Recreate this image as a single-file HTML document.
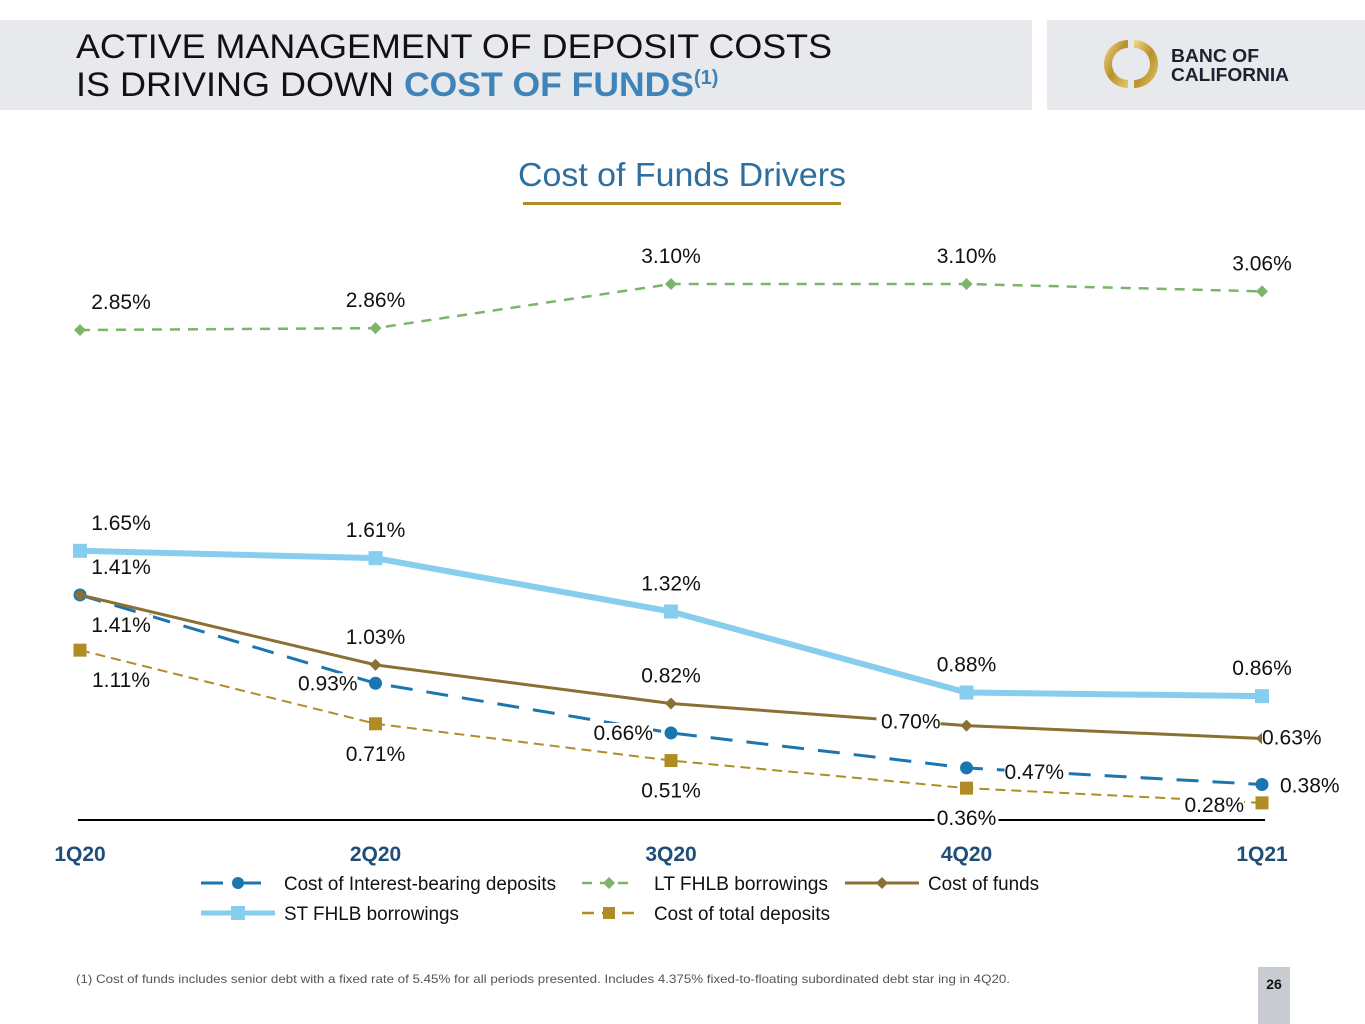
<!DOCTYPE html>
<html><head><meta charset="utf-8"><style>
html,body{margin:0;padding:0;background:#fff;}
svg{display:block;font-family:"Liberation Sans",Arial,sans-serif;}
</style></head><body>
<svg id="chart" width="1365" height="1024" viewBox="0 0 1365 1024" xmlns="http://www.w3.org/2000/svg">
<defs>
<linearGradient id="gold" x1="0" y1="0" x2="1" y2="1"><stop offset="0" stop-color="#f1d98a"/><stop offset="0.5" stop-color="#b8912e"/><stop offset="1" stop-color="#e8c96a"/></linearGradient>
</defs>
<g>
<rect x="0" y="20" width="1032" height="90" fill="#e7e9ec"/>
<text x="76" y="58" font-size="34" fill="#111" textLength="756" lengthAdjust="spacingAndGlyphs">ACTIVE MANAGEMENT OF DEPOSIT COSTS</text>
<text x="76" y="96" font-size="34" fill="#111"><tspan textLength="328" lengthAdjust="spacingAndGlyphs">IS DRIVING DOWN </tspan><tspan fill="#3f84b8" font-weight="bold" textLength="290" lengthAdjust="spacingAndGlyphs">COST OF FUNDS</tspan><tspan font-size="20" dy="-12" fill="#3f84b8" font-weight="bold">(1)</tspan></text>
<rect x="1047" y="20" width="318" height="90" fill="#e7e9ec"/>
<g>
<path d="M1128 40 A24 24 0 0 0 1128 88 L1128 80 A16 16 0 0 1 1128 48 Z" fill="url(#gold)"/>
<path d="M1134 40 A24 24 0 0 1 1134 88 L1134 80 A16 16 0 0 0 1134 48 Z" fill="url(#gold)"/>
<text x="1171" y="62" font-size="18" font-weight="bold" fill="#1b2330" textLength="88" lengthAdjust="spacingAndGlyphs">BANC OF</text>
<text x="1171" y="81" font-size="18" font-weight="bold" fill="#1b2330" textLength="118" lengthAdjust="spacingAndGlyphs">CALIFORNIA</text>
</g>
</g>
<text x="682" y="186" font-size="33" fill="#2f6f9f" text-anchor="middle" textLength="328" lengthAdjust="spacingAndGlyphs">Cost of Funds Drivers</text>
<rect x="523" y="202" width="318" height="3" fill="#b08d24"/>
<line x1="78" y1="820" x2="1265" y2="820" stroke="#000" stroke-width="2"/>
<g id="xlabels"></g>
<g id="series"></g>
<g id="labels"></g>
<g>
<g>
<line x1="201" y1="883" x2="275" y2="883" stroke="#1a75b0" stroke-width="3" stroke-dasharray="22,16"/>
<circle cx="238" cy="883" r="6" fill="#1a75b0"/>
<text x="284" y="890" font-size="19" fill="#111" textLength="272" lengthAdjust="spacingAndGlyphs">Cost of Interest-bearing deposits</text></g>
<g>
<line x1="582" y1="883" x2="636" y2="883" stroke="#7cb46a" stroke-width="2.5" stroke-dasharray="10,8"/>
<path d="M609 877 L615 883 L609 889 L603 883 Z" fill="#7cb46a"/>
<text x="654" y="890" font-size="19" fill="#111" textLength="174" lengthAdjust="spacingAndGlyphs">LT FHLB borrowings</text></g>
<g>
<line x1="845" y1="883" x2="919" y2="883" stroke="#8a7133" stroke-width="3"/>
<path d="M882 877 L888 883 L882 889 L876 883 Z" fill="#8a7133"/>
<text x="928" y="890" font-size="19" fill="#111" textLength="111" lengthAdjust="spacingAndGlyphs">Cost of funds</text></g>
<g>
<line x1="201" y1="913" x2="275" y2="913" stroke="#86cdee" stroke-width="5"/>
<rect x="231" y="906" width="14" height="14" fill="#86cdee"/>
<text x="284" y="920" font-size="19" fill="#111" textLength="175" lengthAdjust="spacingAndGlyphs">ST FHLB borrowings</text></g>
<g>
<line x1="582" y1="913" x2="636" y2="913" stroke="#b08d24" stroke-width="2.5" stroke-dasharray="12,8"/>
<rect x="603" y="907" width="12" height="12" fill="#b08d24"/>
<text x="654" y="920" font-size="19" fill="#111" textLength="176" lengthAdjust="spacingAndGlyphs">Cost of total deposits</text></g>
</g>
<text x="76" y="983" font-size="12" fill="#555" textLength="934" lengthAdjust="spacingAndGlyphs">(1)  Cost of funds includes senior debt with a fixed rate of 5.45% for all periods presented. Includes 4.375% fixed-to-floating subordinated debt star ing in 4Q20.</text>
<rect x="1258" y="967" width="32" height="57" fill="#c8cbcf"/>
<text x="1274" y="989" font-size="14" font-weight="bold" fill="#111" text-anchor="middle">26</text>
</svg>
<script>
const categories = ["1Q20","2Q20","3Q20","4Q20","1Q21"];
const ltFhlb = [2.85, 2.86, 3.10, 3.10, 3.06];
const stFhlb = [1.65, 1.61, 1.32, 0.88, 0.86];
const costOfFunds = [1.41, 1.03, 0.82, 0.70, 0.63];
const interestBearing = [1.41, 0.93, 0.66, 0.47, 0.38];
const totalDeposits = [1.11, 0.71, 0.51, 0.36, 0.28];

const NS = "http://www.w3.org/2000/svg";
function xPos(i){ return 80 + i * 295.5; }
function yPos(v){ return 854.4 - 184 * v; }
function mk(tag, attrs, parent){ const e = document.createElementNS(NS, tag); for (const k in attrs) e.setAttribute(k, attrs[k]); parent.appendChild(e); return e; }

const xl = document.getElementById("xlabels");
categories.forEach((c, i) => {
  const t = mk("text", {x: xPos(i), y: 861, "font-size": 21, "font-weight": "bold", fill: "#1f4e7a", "text-anchor": "middle"}, xl);
  t.textContent = c;
  
  
});

const sg = document.getElementById("series");
const lg = document.getElementById("labels");
const seriesDefs = [
  {name: "lt-fhlb", vals: ltFhlb, color: "#7cb46a", w: 2.5, dash: "10,8", marker: "diamond",
   pos: [[41,-21,"middle"],[0,-21,"middle"],[0,-21,"middle"],[0,-21,"middle"],[0,-21,"middle"]]},
  {name: "total-deposits", vals: totalDeposits, color: "#b08d24", w: 2, dash: "10,6", marker: "square",
   pos: [[41,37,"middle"],[0,37,"middle"],[0,37,"middle"],[0,37,"middle"],[-18,9,"end"]]},
  {name: "interest-bearing", vals: interestBearing, color: "#1a75b0", w: 3, dash: "22,14", marker: "circle",
   pos: [[41,37,"middle"],[-18,7,"end"],[-18,7,"end"],[38,11,"start"],[18,8,"start"]]},
  {name: "cost-of-funds", vals: costOfFunds, color: "#8a7133", w: 3, dash: null, marker: "diamond",
   pos: [[41,-21,"middle"],[0,-21,"middle"],[0,-21,"middle"],[-26,3,"end"],[0,6,"start"]]},
  {name: "st-fhlb", vals: stFhlb, color: "#86cdee", w: 6, dash: null, marker: "square",
   pos: [[41,-21,"middle"],[0,-21,"middle"],[0,-21,"middle"],[0,-21,"middle"],[0,-21,"middle"]]}
];
seriesDefs.forEach(s => {
  const g = mk("g", {}, sg);
  
  
  const pts = s.vals.map((v, i) => xPos(i) + "," + yPos(v)).join(" ");
  const pl = mk("polyline", {points: pts, fill: "none", stroke: s.color, "stroke-width": s.w}, g);
  if (s.dash) pl.setAttribute("stroke-dasharray", s.dash);
  
  
  s.vals.forEach((v, i) => {
    const x = xPos(i), y = yPos(v);
    let m;
    if (s.marker === "circle") m = mk("circle", {cx: x, cy: y, r: 6.5, fill: s.color}, g);
    else if (s.marker === "square") { const sz = s.w > 4 ? 14 : 13; m = mk("rect", {x: x - sz/2, y: y - sz/2, width: sz, height: sz, fill: s.color}, g); }
    else { const r = 6; m = mk("path", {d: `M${x} ${y-r} L${x+r} ${y} L${x} ${y+r} L${x-r} ${y} Z`, fill: s.color}, g); }
    
    
    const p = s.pos[i];
    const tx = x + p[0], ty = y + p[1];
    const bg = mk("rect", {fill: "#fff"}, lg);
    const t = mk("text", {x: tx, y: ty, "font-size": 21, fill: "#111", "text-anchor": p[2]}, lg);
    t.textContent = v.toFixed(2) + "%";
    
    
    const wdt = 64;
    const lx = p[2] === "middle" ? tx - wdt/2 : (p[2] === "end" ? tx - wdt : tx);
    bg.setAttribute("x", lx); bg.setAttribute("y", ty - 17); bg.setAttribute("width", wdt); bg.setAttribute("height", 21);
    
    
  });
});
</script>
</body></html>
